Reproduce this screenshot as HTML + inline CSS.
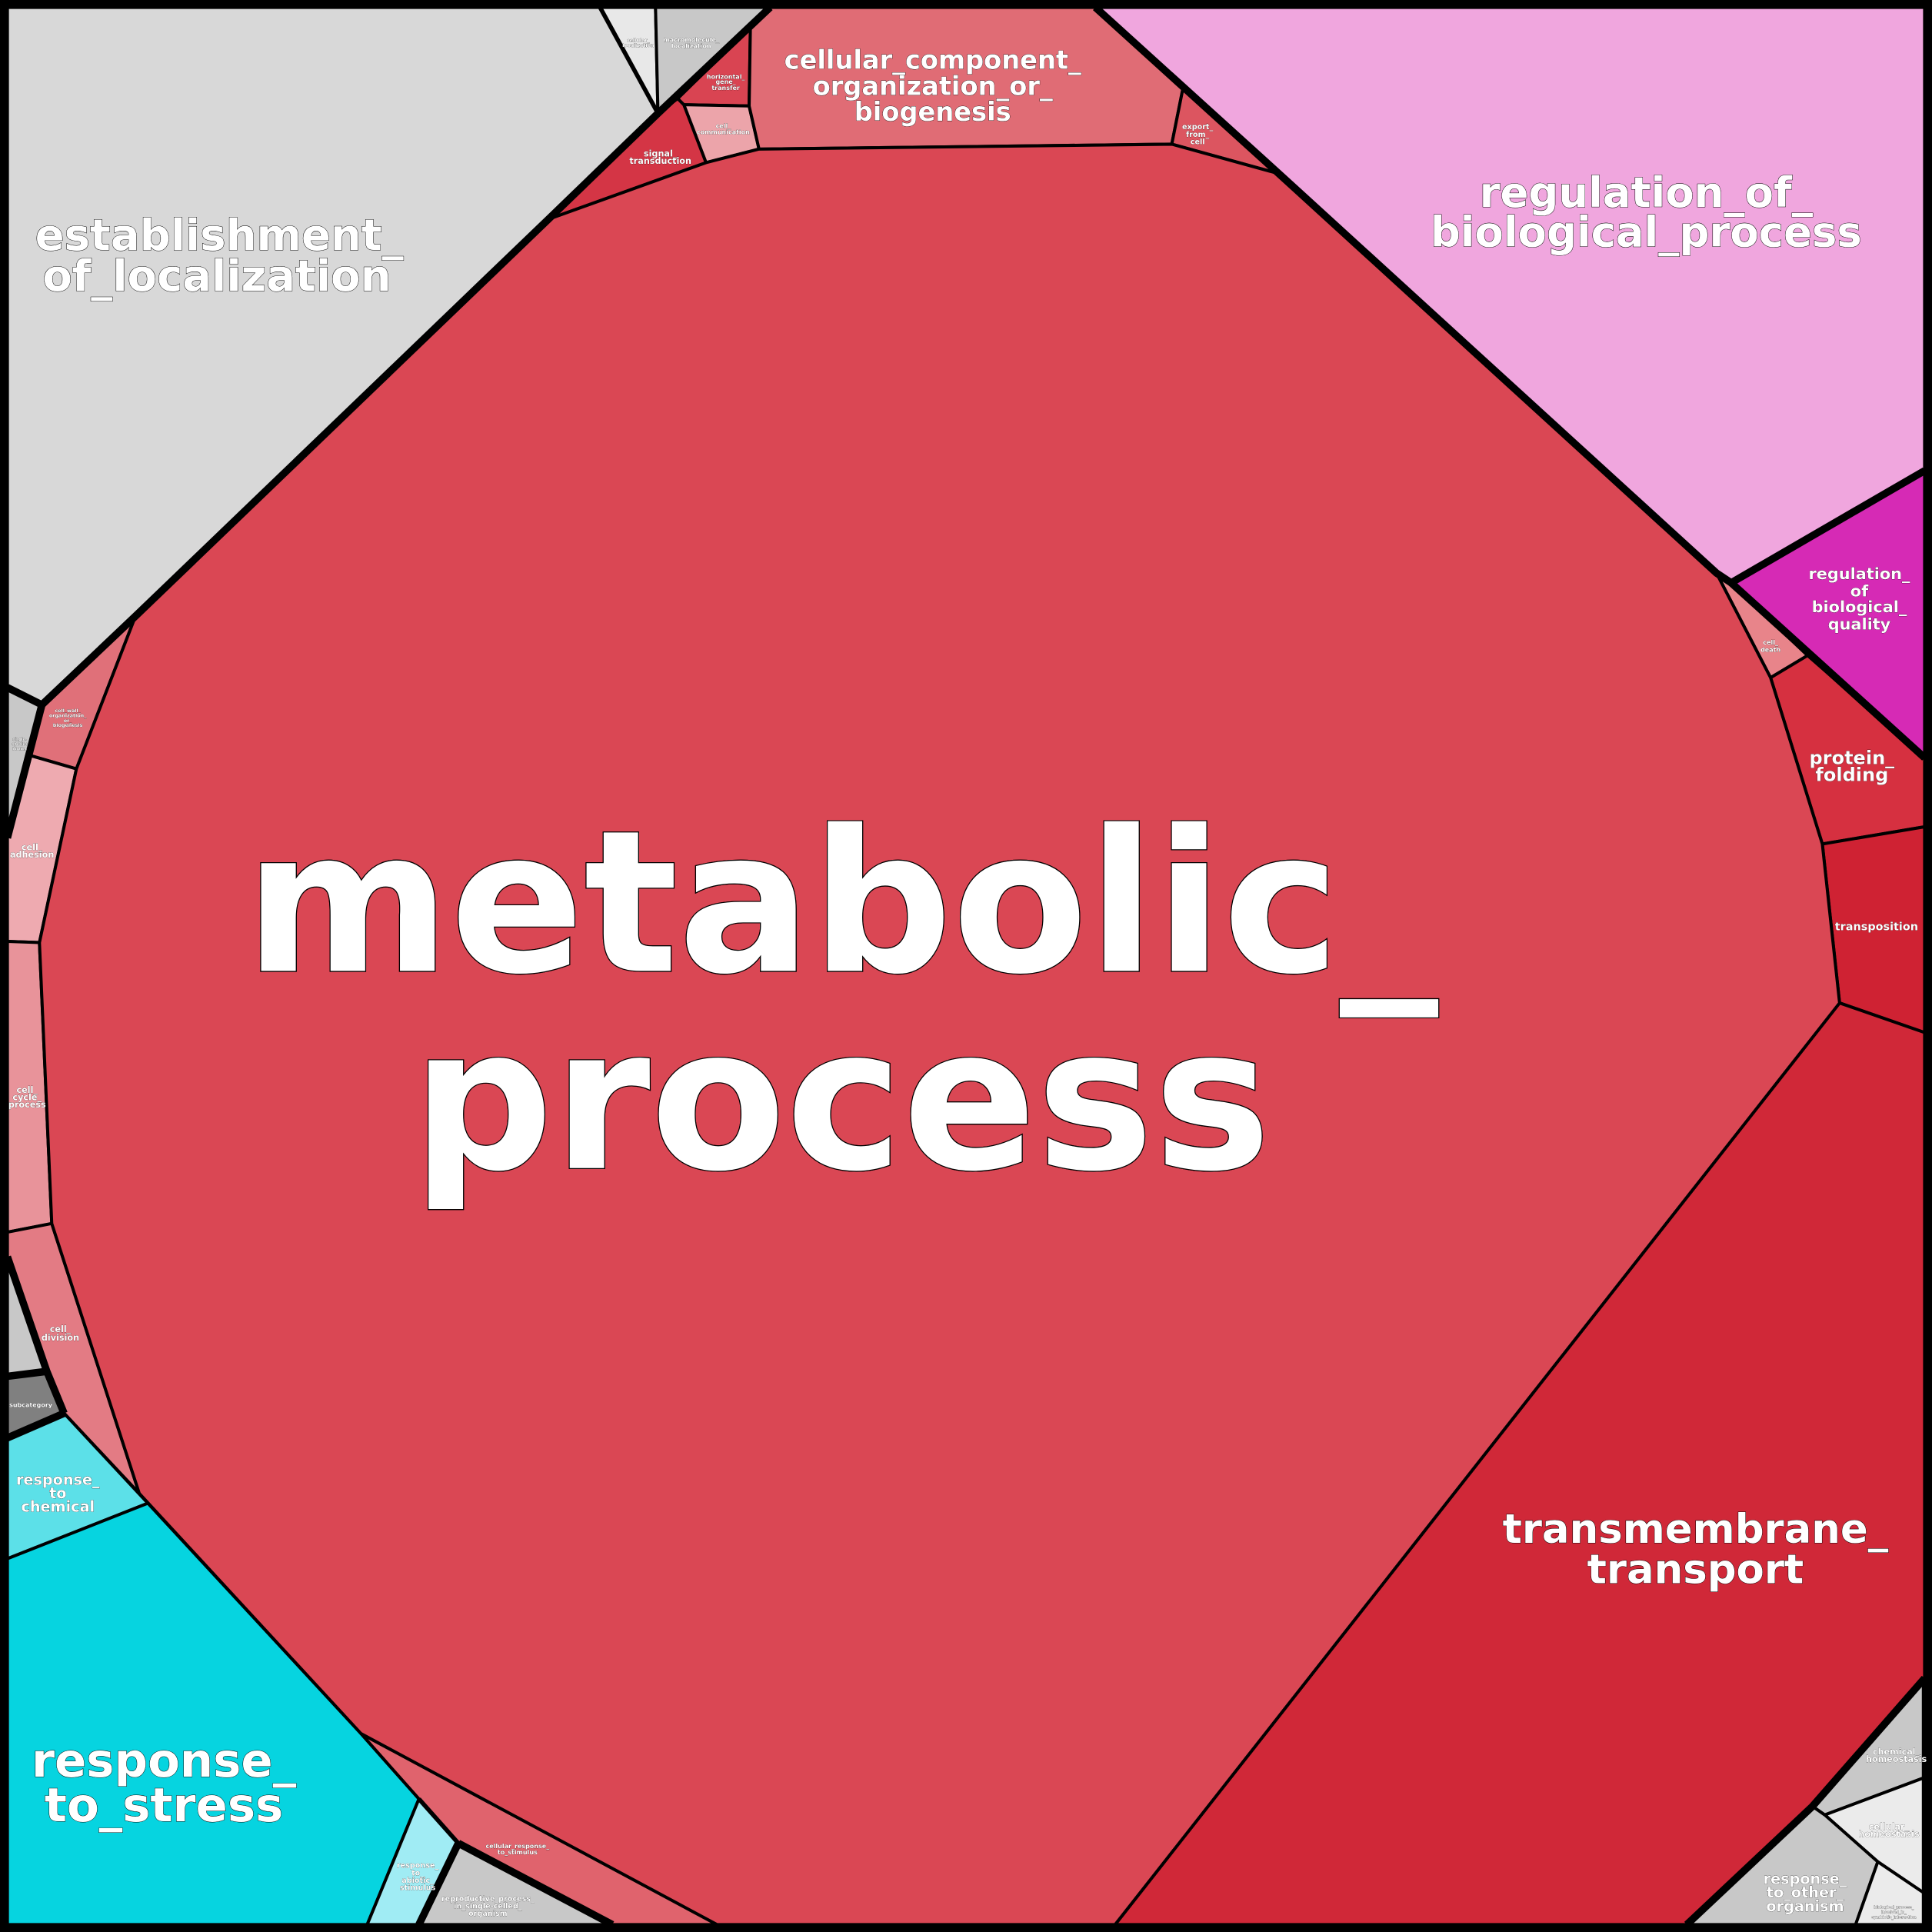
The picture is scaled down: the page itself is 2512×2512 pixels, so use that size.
<!DOCTYPE html>
<html><head><meta charset="utf-8"><style>
html,body{margin:0;padding:0;background:#000;}
svg{display:block}
text{font-family:"DejaVu Sans","Liberation Sans",sans-serif;font-weight:bold;fill:#fff;stroke:#000;paint-order:stroke;text-anchor:middle;filter:drop-shadow(0.6px 0.6px 0 #000)}
</style></head><body>
<svg width="2512" height="2512" viewBox="0 0 1568 1568" xmlns="http://www.w3.org/2000/svg">
<rect x="0" y="0" width="1568" height="1568" fill="#000"/>
<g stroke="#000" stroke-width="2.5" stroke-linejoin="round">
<polygon fill="#d8d8d8" points="6,6 487,6 534,92 445,178 110,500 34,572 6,558"/>
<polygon fill="#e8e8e8" points="487,6 532,6 534,92"/>
<polygon fill="#c8c8c8" points="532,6 625,6 550,80 534,92"/>
<polygon fill="#d94452" points="550,80 609,22 608,86 555,85"/>
<polygon fill="#eca4aa" points="555,85 608,86 616,121 573,132"/>
<polygon fill="#d43545" points="534,92 550,80 555,85 573,132 445,178"/>
<polygon fill="#e06c75" points="625,6 889,6 960,72 951,117 616,121 608,86 609,22"/>
<polygon fill="#dc5560" points="960,72 1038,141 951,117"/>
<polygon fill="#f0a6de" points="889,6 1562,6 1562,382 1405,473 1393,465 1038,141"/>
<polygon fill="#d62ab5" points="1405,473 1562,382 1562,615 1467,532"/>
<polygon fill="#e8848a" points="1393,465 1405,473 1467,532 1437,550"/>
<polygon fill="#d63040" points="1437,550 1467,532 1562,615 1562,671 1479,685"/>
<polygon fill="#cf2233" points="1479,685 1562,671 1562,838 1493,814"/>
<polygon fill="#d02838" points="1493,814 1562,838 1562,1362 1471,1466 1369,1562 905,1562"/>
<polygon fill="#c8c8c8" points="1471,1466 1561,1364 1561,1443 1481,1473"/>
<polygon fill="#ebebeb" points="1481,1473 1561,1443 1561,1536 1524,1511"/>
<polygon fill="#c8c8c8" points="1369,1562 1471,1466 1481,1473 1524,1511 1506,1562"/>
<polygon fill="#ebebeb" points="1524,1511 1561,1536 1561,1562 1506,1562"/>
<polygon fill="#e07079" points="34,572 110,500 62,624 24,613"/>
<polygon fill="#c8c8c8" points="6,558 34,572 24,613 6,680"/>
<polygon fill="#eeaab0" points="24,613 62,624 32,765 6,764 6,680"/>
<polygon fill="#e8939a" points="6,764 32,765 42,993 6,1000"/>
<polygon fill="#e37b84" points="6,1000 42,993 113,1212 52,1147 38,1113 6,1020"/>
<polygon fill="#c8c8c8" points="6,1020 38,1113 6,1117"/>
<polygon fill="#808080" points="6,1117 38,1113 52,1147 6,1167"/>
<polygon fill="#5ce0e8" points="6,1167 52,1147 120,1220 6,1265"/>
<polygon fill="#06d4e0" points="6,1265 120,1220 293,1407 340,1460 298,1562 6,1562"/>
<polygon fill="#a0ecf4" points="340,1460 372,1496 340,1562 298,1562"/>
<polygon fill="#c8c8c8" points="372,1496 497,1562 340,1562"/>
<polygon fill="#e0636d" points="293,1407 582,1562 497,1562 372,1496 340,1460"/>
<polygon fill="#da4754" points="445,178 573,132 616,121 951,117 1038,141 1393,465 1437,550 1479,685 1493,814 905,1562 582,1562 293,1407 113,1212 42,993 32,765 62,624 110,500"/>
</g>
<g fill="none" stroke="#000" stroke-width="6" stroke-linejoin="round">
<polyline points="625,6 534,92 445,178 110,500 34,572 6,558"/>
<polyline points="34,572 6,680"/>
<polyline points="889,6 1038,141 1393,465 1405,473 1562,382"/>
<polyline points="1405,473 1562,615"/>
<polyline points="1562,1362 1471,1466 1369,1562"/>
<polyline points="6,1020 38,1113 52,1147"/>
<polyline points="6,1117 38,1113"/>
<polyline points="6,1167 52,1147"/>
<polyline points="372,1496 340,1562"/>
<polyline points="372,1496 497,1562"/>
</g>
<g fill="none" stroke="#000" stroke-width="3.5">
<polyline points="534,92 487,6"/>
<polyline points="340,1460 372,1496"/>
</g>
<rect x="3" y="3" width="1562" height="1562" fill="none" stroke="#000" stroke-width="7"/>
<g>
<text x="683" y="788" font-size="160" stroke-width="1.5">metabolic_</text>
<text x="683" y="948" font-size="160" stroke-width="1.5">process</text>
<text x="178" y="203" font-size="35" stroke-width="0.5">establishment_</text>
<text x="176" y="236" font-size="35" stroke-width="0.5">of_localization</text>
<text x="1336" y="168" font-size="34" stroke-width="0.5">regulation_of_</text>
<text x="1336" y="200" font-size="34" stroke-width="0.5">biological_process</text>
<text x="1376" y="1252" font-size="33" stroke-width="0.5">transmembrane_</text>
<text x="1376" y="1285" font-size="33" stroke-width="0.5">transport</text>
<text x="133" y="1442" font-size="38" stroke-width="0.5">response_</text>
<text x="133" y="1478" font-size="38" stroke-width="0.5">to_stress</text>
<text x="757" y="56" font-size="21" stroke-width="0.3">cellular_component_</text>
<text x="757" y="77" font-size="21" stroke-width="0.3">organization_or_</text>
<text x="757" y="98" font-size="21" stroke-width="0.3">biogenesis</text>
<text x="1509" y="470" font-size="13" stroke-width="0.2">regulation_</text>
<text x="1509" y="484" font-size="13" stroke-width="0.2">of</text>
<text x="1509" y="497" font-size="13" stroke-width="0.2">biological_</text>
<text x="1509" y="511" font-size="13" stroke-width="0.2">quality</text>
<text x="1503" y="620" font-size="15" stroke-width="0.2">protein_</text>
<text x="1503" y="634" font-size="15" stroke-width="0.2">folding</text>
<text x="1523" y="755" font-size="9" stroke-width="0.1">transposition</text>
<text x="47" y="1205" font-size="12" stroke-width="0.2">response_</text>
<text x="47" y="1216" font-size="12" stroke-width="0.2">to</text>
<text x="47" y="1227" font-size="12" stroke-width="0.2">chemical</text>
<text x="1465" y="1529" font-size="12" stroke-width="0.2">response_</text>
<text x="1465" y="1540" font-size="12" stroke-width="0.2">to_other_</text>
<text x="1465" y="1551" font-size="12" stroke-width="0.2">organism</text>
<text x="536" y="127" font-size="7" stroke-width="0.1">signal_</text>
<text x="536" y="133" font-size="7" stroke-width="0.1">transduction</text>
<text x="972" y="105" font-size="6" stroke-width="0.1">export_</text>
<text x="972" y="111" font-size="6" stroke-width="0.1">from_</text>
<text x="972" y="117" font-size="6" stroke-width="0.1">cell</text>
<text x="26" y="690" font-size="7" stroke-width="0.1">cell_</text>
<text x="26" y="696" font-size="7" stroke-width="0.1">adhesion</text>
<text x="22" y="887" font-size="7" stroke-width="0.1">cell_</text>
<text x="22" y="893" font-size="7" stroke-width="0.1">cycle_</text>
<text x="22" y="899" font-size="7" stroke-width="0.1">process</text>
<text x="49" y="1081" font-size="7" stroke-width="0.1">cell_</text>
<text x="49" y="1088" font-size="7" stroke-width="0.1">division</text>
<text x="1539" y="1424" font-size="7" stroke-width="0.1">chemical_</text>
<text x="1539" y="1430" font-size="7" stroke-width="0.1">homeostasis</text>
<text x="1533" y="1485" font-size="7" stroke-width="0.1">cellular_</text>
<text x="1533" y="1491" font-size="7" stroke-width="0.1">homeostasis</text>
<text x="1437" y="523" font-size="5" stroke-width="0.1">cell_</text>
<text x="1437" y="529" font-size="5" stroke-width="0.1">death</text>
<text x="339" y="1516" font-size="6" stroke-width="0.1">response_</text>
<text x="339" y="1522" font-size="6" stroke-width="0.1">to_</text>
<text x="339" y="1528" font-size="6" stroke-width="0.1">abiotic_</text>
<text x="339" y="1534" font-size="6" stroke-width="0.1">stimulus</text>
<text x="396" y="1543" font-size="6" stroke-width="0.1">reproductive_process_</text>
<text x="396" y="1549" font-size="6" stroke-width="0.1">in_single-celled_</text>
<text x="396" y="1555" font-size="6" stroke-width="0.1">organism</text>
<text x="420" y="1500" font-size="5" stroke-width="0.1">cellular_response_</text>
<text x="420" y="1505" font-size="5" stroke-width="0.1">to_stimulus</text>
<text x="25" y="1142" font-size="5" stroke-width="0.1">subcategory</text>
<text x="561" y="34" font-size="5" stroke-width="0.1">macromolecule_</text>
<text x="561" y="39" font-size="5" stroke-width="0.1">localization</text>
<text x="518" y="34" font-size="4" stroke-width="0.1">cellular_</text>
<text x="518" y="38" font-size="4" stroke-width="0.1">localization</text>
<text x="589" y="64" font-size="5" stroke-width="0.1">horizontal_</text>
<text x="589" y="68" font-size="5" stroke-width="0.1">gene_</text>
<text x="589" y="73" font-size="5" stroke-width="0.1">transfer</text>
<text x="587" y="104" font-size="5" stroke-width="0.1">cell_</text>
<text x="587" y="109" font-size="5" stroke-width="0.1">communication</text>
<text x="55" y="578" font-size="4" stroke-width="0.1">cell_wall_</text>
<text x="55" y="582" font-size="4" stroke-width="0.1">organization_</text>
<text x="55" y="586" font-size="4" stroke-width="0.1">or_</text>
<text x="55" y="590" font-size="4" stroke-width="0.1">biogenesis</text>
<text x="16" y="601" font-size="3" stroke-width="0.1">single-</text>
<text x="16" y="605" font-size="3" stroke-width="0.1">species</text>
<text x="16" y="609" font-size="3" stroke-width="0.1">biofilm</text>
<text x="1537" y="1549" font-size="3" stroke-width="0.1">biological_process_</text>
<text x="1537" y="1553" font-size="3" stroke-width="0.1">involved_in_</text>
<text x="1537" y="1557" font-size="3" stroke-width="0.1">symbiotic_interaction</text>
</g>
</svg>
</body></html>
